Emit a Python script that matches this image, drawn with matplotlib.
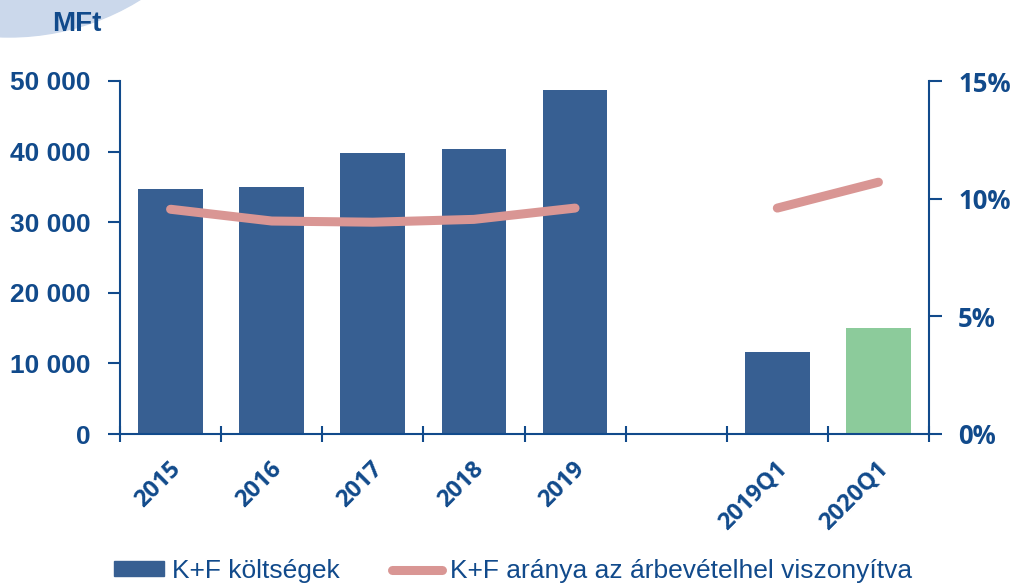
import numpy as np
import matplotlib
matplotlib.use('Agg')
import matplotlib.pyplot as plt
from matplotlib.patches import Ellipse, Patch
from matplotlib.lines import Line2D

# data
categories = ['2015', '2016', '2017', '2018', '2019', '', '2019Q1', '2020Q1']
costs = [34700, 35000, 39800, 40400, 48700, np.nan, 11600, 15000]  # MFt
ratio = [9.55, 9.05, 9.0, 9.12, 9.6, np.nan, 9.6, 10.7]  # %
bar_colors = ['#375F92'] * 7 + ['#8CCB9B']

txt = '#114A8B'
W, H = 1011, 586

fig = plt.figure(figsize=(W / 100, H / 100), dpi=100)
ax = fig.add_axes([120 / W, 1 - 434 / H, (929 - 120) / W, (434 - 81) / H])
ax2 = ax.twinx()

# light blue decoration top-left
fig.patches.append(Ellipse((9 / W, 1 + 212 / H), 2 * 249 / W, 2 * 249 / H,
                           transform=fig.transFigure, color='#CBD8EB', zorder=0))

x = np.arange(len(categories))
ax.bar(x, costs, width=0.64, color=bar_colors, zorder=2)
ax2.plot(x, ratio, color='#D99694', lw=6.5, solid_capstyle='round',
         solid_joinstyle='round', zorder=3)

ax.set_xlim(-0.5, len(categories) - 0.5)
ax.set_ylim(0, 50000)
ax2.set_ylim(0, 15)

ax.set_yticks(range(0, 50001, 10000))
ax.set_yticklabels([f'{v:,}'.replace(',', ' ') for v in range(0, 50001, 10000)],
                   fontsize=19, fontweight='bold', color=txt, family='Liberation Sans')
ax2.set_yticks([0, 5, 10, 15])
ax2.set_yticklabels([f'{v}%' for v in [0, 5, 10, 15]],
                    fontsize=18.5, fontweight='bold', color=txt, family='Open Sans')

# category labels at centers, ticks on boundaries
ax.set_xticks(np.arange(len(categories) + 1) - 0.5)
ax.set_xticklabels([])
ax.tick_params(axis='x', direction='inout', length=12, width=1.5, color=txt)
for xi, lab in zip(x, categories):
    ax.text(xi - 0.02, -0.065, lab, transform=ax.get_xaxis_transform(),
            rotation=45, ha='right', va='top', rotation_mode='anchor',
            fontsize=17, fontweight='bold', color=txt, family='Open Sans')

ax.tick_params(axis='y', direction='out', length=9, width=1.5, color=txt, pad=12)
ax2.tick_params(axis='y', direction='out', length=9, width=1.5, color=txt, pad=12)

for a in (ax, ax2):
    a.spines['top'].set_visible(False)
    for s in ('left', 'right', 'bottom'):
        a.spines[s].set_color(txt)
        a.spines[s].set_linewidth(1.5)
ax2.spines['left'].set_visible(False)
ax2.spines['bottom'].set_visible(False)
ax.spines['right'].set_visible(False)

fig.text(52 / W, 1 - 24 / H, 'MFt', fontsize=20, fontweight='bold', color=txt,
         family='Liberation Sans', va='center')

handles = [Patch(color='#375F92'),
           Line2D([0], [0], color='#D99694', lw=6.5, solid_capstyle='round')]
labels = ['K+F költségek', 'K+F aránya az árbevételhel viszonyítva']
fig.legend(handles, labels, loc='center', bbox_to_anchor=(513 / W, 1 - 571 / H),
           ncol=2, frameon=False, handlelength=1.9, handleheight=0.5,
           columnspacing=2.0, handletextpad=0.3,
           prop={'family': 'Liberation Sans', 'size': 19}, labelcolor=txt)

fig.savefig('out.png', dpi=100)
